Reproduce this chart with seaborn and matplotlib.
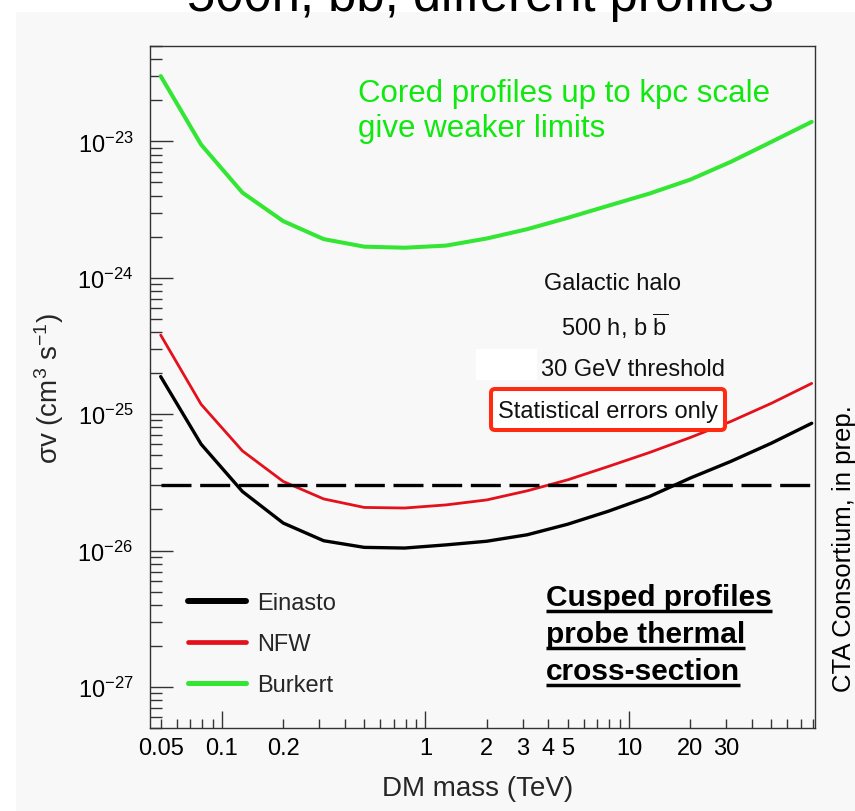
import numpy as np
import pandas as pd
import matplotlib
matplotlib.use("Agg")
import matplotlib.pyplot as plt
import seaborn as sns
from matplotlib.lines import Line2D
from matplotlib.patches import FancyBboxPatch, Rectangle
from matplotlib.ticker import (FixedLocator, FuncFormatter, LogLocator,
                               LogFormatterMathtext, NullFormatter)

# ---- data: annihilation cross-section limits vs DM mass ----
mass_tev = [0.05, 0.079, 0.126, 0.2, 0.316, 0.5, 0.79, 1.26, 2.0, 3.16,
            5.0, 7.9, 12.6, 20.0, 31.6, 50.0, 79.0]
einasto = [1.885e-25, 6.02e-26, 2.71e-26, 1.59e-26, 1.18e-26, 1.055e-26,
           1.043e-26, 1.10e-26, 1.17e-26, 1.305e-26, 1.56e-26, 1.94e-26,
           2.49e-26, 3.40e-26, 4.50e-26, 6.12e-26, 8.57e-26]
nfw = [3.80e-25, 1.18e-25, 5.38e-26, 3.21e-26, 2.39e-26, 2.07e-26,
       2.05e-26, 2.16e-26, 2.35e-26, 2.74e-26, 3.30e-26, 4.13e-26,
       5.23e-26, 6.74e-26, 8.83e-26, 1.20e-25, 1.68e-25]
burkert = [3.01e-23, 9.46e-24, 4.21e-24, 2.60e-24, 1.92e-24, 1.69e-24,
           1.66e-24, 1.72e-24, 1.94e-24, 2.27e-24, 2.75e-24, 3.37e-24,
           4.14e-24, 5.24e-24, 7.07e-24, 9.90e-24, 1.39e-23]
profiles = ["Einasto", "NFW", "Burkert"]
thermal_xsec = 3.0e-26

x_major_ticks = [0.1, 1, 10]
x_labelled_minor = [0.05, 0.2, 2, 3, 4, 5, 20, 30]
y_major_ticks = [1e-27, 1e-26, 1e-25, 1e-24, 1e-23]

title = "500h, bb, different profiles"
cored_lines = ["Cored profiles up to kpc scale", "give weaker limits"]
cusped_lines = ["Cusped profiles", "probe thermal", "cross-section"]
info_lines = ["Galactic halo", r"500 h, b $\overline{\mathrm{b}}$",
              "30 GeV threshold"]
box_text = "Statistical errors only"
credit = "CTA Consortium, in prep."
xlabel = "DM mass (TeV)"
ylabel = r"σv (cm$^{3}$ s$^{-1}$)"

# ---- style ----
W, H, DPI = 855, 812, 100
sns.set_theme(style="ticks")
plt.rcParams.update({
    "font.family": ["Liberation Sans", "DejaVu Sans"],
    "mathtext.fontset": "custom",
    "mathtext.rm": "Liberation Sans",
    "mathtext.it": "Liberation Sans:italic",
    "mathtext.bf": "Liberation Sans:bold",
    "axes.unicode_minus": False,
})
BG = "#f8f8f8"
colors = {"Einasto": "#000000", "NFW": "#e3111b", "Burkert": "#33e633"}
widths = {"Einasto": 2.4, "NFW": 2.0, "Burkert": 2.9}
legend_widths = {"Einasto": 4.3, "NFW": 3.4, "Burkert": 3.6}
GREEN_TEXT = "#10e810"
BOX_RED = "#ff2a10"

fig = plt.figure(figsize=(W / DPI, H / DPI), dpi=DPI, facecolor=BG)


def px(x, y):
    """pixel position (from top-left) -> inches for fig.dpi_scale_trans"""
    return x / DPI, (H - y) / DPI


inch = fig.dpi_scale_trans

# lighter margins at the top and left edge
fig.add_artist(Rectangle(px(0, 13), W / DPI, 13 / DPI, transform=inch,
                         facecolor="white", edgecolor="none", zorder=-5))
fig.add_artist(Rectangle(px(0, H), 16 / DPI, H / DPI, transform=inch,
                         facecolor="white", edgecolor="none", zorder=-5))

ax = fig.add_axes([150 / W, 1 - 729 / H, (815 - 150) / W, (729 - 47) / H])
ax.set_facecolor(BG)
ax.set_xscale("log")
ax.set_yscale("log")

df = pd.DataFrame({
    "mass": mass_tev * 3,
    "sigmav": einasto + nfw + burkert,
    "profile": np.repeat(profiles, len(mass_tev)),
})
sns.lineplot(data=df, x="mass", y="sigmav", hue="profile", size="profile",
             palette=colors, sizes=widths, estimator=None, sort=False,
             legend=False, ax=ax)

# thermal relic cross-section
ax.plot([mass_tev[0], mass_tev[-1]], [thermal_xsec, thermal_xsec],
        color="black", lw=2.4, dashes=(9, 2.6), solid_capstyle="butt")

ax.set_xlim(0.0443, 82.0)
ax.set_ylim(5.0e-28, 5.0e-23)
ax.set_xlabel("")
ax.set_ylabel("")

# x axis ticks
ax.xaxis.set_major_locator(FixedLocator(x_major_ticks))
ax.xaxis.set_major_formatter(FuncFormatter(lambda v, p: f"{v:g}"))
ax.xaxis.set_minor_locator(LogLocator(base=10, subs=np.arange(2, 10), numticks=30))


def minor_label(v, p):
    return f"{v:g}" if any(np.isclose(v, t) for t in x_labelled_minor) else ""


ax.xaxis.set_minor_formatter(FuncFormatter(minor_label))

# y axis ticks
ax.yaxis.set_major_locator(FixedLocator(y_major_ticks))
ax.yaxis.set_major_formatter(LogFormatterMathtext())
ax.yaxis.set_minor_locator(LogLocator(base=10, subs=np.arange(2, 10), numticks=30))
ax.yaxis.set_minor_formatter(NullFormatter())

ax.tick_params(axis="both", which="both", direction="in", color="#333333",
               width=1.0, labelsize=17, labelcolor="black",
               top=False, right=False)
ax.tick_params(axis="x", which="major", length=12.5, pad=6.5)
ax.tick_params(axis="x", which="minor", length=6.5, pad=6.5)
ax.tick_params(axis="y", which="major", length=16.5, pad=12)
ax.tick_params(axis="y", which="minor", length=8.5)
for s in ax.spines.values():
    s.set_visible(True)
    s.set_color("#333333")
    s.set_linewidth(1.0)

# axis titles
fig.text(*px(478, 796), xlabel, transform=inch, ha="center", va="baseline",
         fontsize=20)
fig.text(*px(49, 388), ylabel, transform=inch, ha="center", va="center",
         rotation=90, fontsize=20)

# legend
handles = [Line2D([], [], color=colors[p], lw=legend_widths[p]) for p in profiles]
ax.legend(handles, profiles, loc="center left",
          bbox_to_anchor=px(188, 645), bbox_transform=inch,
          frameon=False, fontsize=17, handlelength=2.46, handletextpad=0.47,
          labelspacing=0.8, borderpad=0, borderaxespad=0)

# title (runs off the top edge)
fig.text(*px(480, 11), title, transform=inch, ha="center", va="baseline",
         fontsize=36.5, color="black")

# credit line on the right
fig.text(*px(844.5, 549), credit, transform=inch, ha="center", va="center",
         rotation=90, fontsize=18.5, color="black")

# green note about cored profiles
for line, yb in zip(cored_lines, [101.7, 136.7]):
    fig.text(*px(358, yb), line, transform=inch, ha="left", va="baseline",
             fontsize=22.5, color=GREEN_TEXT)

# info block
fig.add_artist(Rectangle(px(476, 381), 61 / DPI, 31 / DPI, transform=inch,
                         facecolor="white", edgecolor="none", zorder=3))
for line, (xc, yb) in zip(info_lines, [(612, 290), (615, 336), (633, 376)]):
    fig.text(*px(xc, yb), line, transform=inch, ha="center", va="baseline",
             fontsize=17, color="#111111", zorder=4)

box = FancyBboxPatch(px(491, 431), (725 - 491) / DPI, (431 - 390) / DPI,
                     boxstyle="round,pad=0,rounding_size=0.04",
                     transform=inch, facecolor="white", edgecolor=BOX_RED,
                     lw=2.9, zorder=3)
fig.add_artist(box)
fig.text(*px(608, 418), box_text, transform=inch, ha="center", va="baseline",
         fontsize=17, color="#111111", zorder=4)

# underlined bold statement about cusped profiles
renderer = fig.canvas.get_renderer()
for line, yb in zip(cusped_lines, [606, 643, 680]):
    t = fig.text(*px(546, yb), line, transform=inch, ha="left",
                 va="baseline", fontsize=21.5, fontweight="bold",
                 color="black")
    bb = t.get_window_extent(renderer)
    x0, x1 = bb.x0 / DPI, bb.x1 / DPI
    yu = (H - yb - 6) / DPI
    fig.add_artist(Line2D([x0, x1], [yu, yu], transform=inch, color="black",
                          lw=2.5, solid_capstyle="butt"))

fig.savefig("out.png", dpi=DPI, facecolor=BG)
